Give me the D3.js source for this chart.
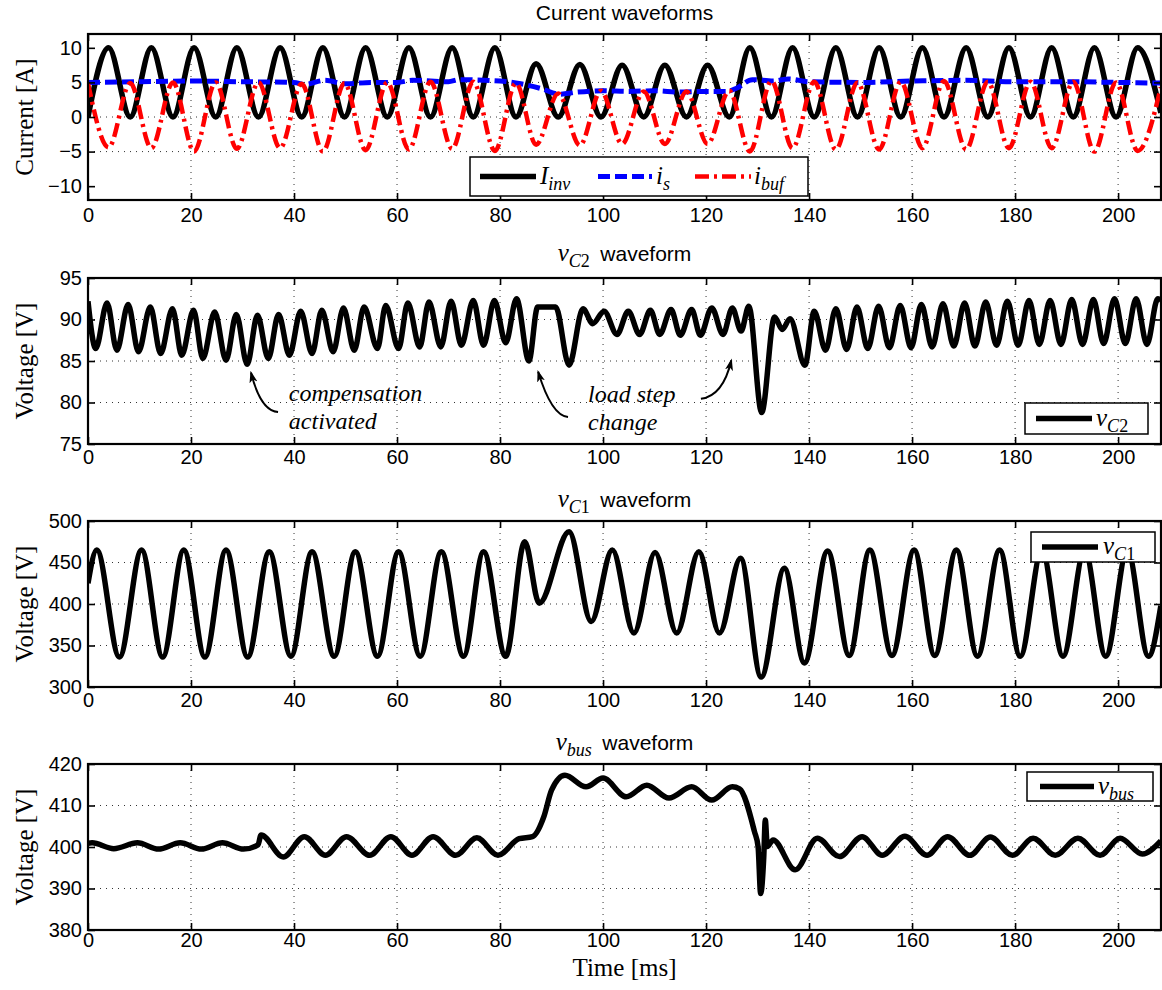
<!DOCTYPE html>
<html>
<head>
<meta charset="utf-8">
<script src="https://cdnjs.cloudflare.com/ajax/libs/d3/7.8.5/d3.min.js"></script>
<style>
  body { margin: 0; background: #fff; }
</style>
</head>
<body>
<script>
// time axis
var xMax = 208.33;
var xTicks = [0, 20, 40, 60, 80, 100, 120, 140, 160, 180, 200];

// y ticks per panel
var ticksCurrent = [-10, -5, 0, 5, 10];
var ticksC2 = [75, 80, 85, 90, 95];
var ticksC1 = [300, 350, 400, 450, 500];
var ticksBus = [380, 390, 400, 410, 420];

// [time ms, value] at extrema and turning points
var iInv = [[0,0],[4.0,10],[8.2,0],[12.3,10],[16.5,0],[20.6,10],[24.8,0],[28.9,10],[33.1,0],[37.3,10],
  [41.5,0],[45.6,10],[49.8,0],[53.9,10],[58.1,0],[62.3,10],[66.5,0],[70.7,10],[74.8,0],[79.0,10],
  [83.1,0],[87.0,7.7],[91.3,0],[95.5,7.6],[99.6,0],[103.7,7.5],[107.9,0],[112.0,7.5],[116.2,0],[120.3,7.5],
  [124.5,0],[128.5,10],[132.7,0],[136.8,10],[141.0,0],[145.2,10],[149.4,0],[153.6,10],[157.8,0],[162.0,10],
  [166.2,0],[170.5,10],[174.7,0],[178.8,10],[183.0,0],[187.1,10],[191.3,0],[195.4,10],[199.6,0],[203.8,10],[208.3,0.6]];

var iS = [[0,5.0],[10,5.1],[20,5.2],[30,5.1],[40,5.0],[42,4.7],[46,5.3],[50,4.8],[55,5.0],[60,5.0],[63,5.3],
  [70,5.1],[72,5.4],[80,5.2],[84,4.8],[88,4.1],[91.5,3.3],[95,3.6],[100,3.8],[105,3.7],[110,3.8],[115,3.6],
  [120,3.7],[124,3.7],[126,4.2],[129,5.4],[133,5.2],[136,5.5],[140,5.1],[150,5.0],[160,5.2],[170,5.3],
  [180,5.1],[190,5.1],[200,5.0],[208.3,4.9]];

var iBuf = [[0,4.9],[4.0,-4.4],[8.2,4.9],[12.3,-4.5],[16.5,5.0],[20.6,-5.0],[24.8,5.0],[28.9,-4.6],[33.1,5.0],
  [37.3,-4.5],[41.5,4.8],[45.6,-5.0],[49.8,4.9],[53.9,-4.8],[58.1,5.0],[62.3,-4.7],[66.5,5.1],[70.7,-4.6],
  [74.8,5.1],[79.0,-4.9],[83.1,4.9],[87.0,-4.0],[91.3,3.4],[95.5,-4.1],[99.6,3.8],[103.7,-3.9],[107.9,3.7],
  [112.0,-3.9],[116.2,3.7],[120.3,-3.9],[124.5,3.8],[128.5,-5.0],[132.7,5.2],[136.8,-4.5],[141.0,5.1],
  [145.2,-4.7],[149.4,5.0],[153.6,-4.7],[157.8,5.1],[162.0,-4.5],[166.2,5.2],[170.5,-4.7],[174.7,5.1],
  [178.8,-4.5],[183.0,5.1],[187.1,-4.5],[191.3,5.1],[195.4,-5.0],[199.6,5.0],[203.8,-4.9],[208.3,4.3]];

var vC2 = [[0,92.2],[1.5,86.5],[3.7,92.0],[5.6,86.3],[7.8,91.8],[9.8,86.1],[12.1,91.5],[14.1,85.9],[16.4,91.3],
  [18.2,85.7],[20.5,91.1],[22.3,85.3],[24.6,90.9],[26.8,85.1],[28.8,90.6],[30.9,84.6],[32.9,90.5],[35.0,85.3],
  [37.0,90.6],[39.1,85.7],[41.3,91.0],[43.5,85.9],[45.4,91.1],[47.6,86.1],[49.6,91.4],[51.7,86.3],[53.6,91.5],
  [56.2,86.5],[57.8,91.7],[60.3,86.5],[62.1,92.0],[64.4,86.7],[66.2,92.1],[68.5,86.7],[70.5,92.2],[72.5,86.9],
  [74.8,92.3],[76.8,86.9],[78.9,92.3],[81.1,87.2],[83.2,92.5],[85.6,85.0],[87.3,91.5],[90.8,91.5],[93.4,84.5],
  [96.1,91.3],[98.0,89.5],[100.2,91.0],[102.7,88.2],[104.9,91.0],[107.1,88.2],[109.2,91.1],[111.0,88.2],
  [113.2,91.2],[115.0,88.1],[117.2,91.2],[118.9,88.1],[121.1,91.4],[123.3,88.2],[125.1,91.4],[126.8,88.6],
  [128.3,91.6],[130.8,78.8],[133.3,90.3],[134.8,88.8],[136.3,90.1],[139.2,84.5],[141.0,91.0],[143.2,86.3],
  [145.2,91.3],[147.3,86.4],[149.3,91.5],[151.4,86.5],[153.5,91.6],[155.6,86.6],[157.7,91.7],[159.8,86.6],
  [161.8,91.8],[163.9,86.7],[166.0,91.9],[168.1,86.8],[170.2,92.0],[172.2,86.8],[174.3,92.1],[176.4,86.9],
  [178.5,92.2],[180.6,86.9],[182.7,92.3],[184.7,87.0],[186.8,92.3],[188.9,87.0],[191.0,92.4],[193.1,87.0],
  [195.2,92.4],[197.2,87.1],[199.3,92.5],[201.4,87.1],[203.5,92.5],[205.6,87.0],[207.7,92.5],[208.3,92.3]];

var vC1 = [[0,425],[1.7,465],[6.1,336],[10.4,465],[14.5,336],[18.6,465],[22.7,336],[26.8,465],[31.0,336],
  [35.2,463],[39.4,337],[43.5,463],[47.8,337],[51.9,463],[56.2,337],[60.3,463],[64.5,337],[68.6,463],
  [72.9,337],[76.8,463],[81.1,337],[84.8,475],[87.6,401],[93.4,487],[97.7,379],[101.8,465],[106.0,365],
  [110.1,462],[114.3,365],[118.6,463],[122.6,365],[126.7,455],[130.7,312],[135.2,443],[139.1,329],
  [143.6,464],[147.8,338],[151.8,465],[156.1,338],[160.4,465],[164.4,338],[168.6,465],[172.7,337],
  [177.0,465],[181.0,337],[185.2,465],[189.3,337],[193.5,465],[197.6,337],[201.8,465],[205.9,337],[208.3,398]];

var vBus = [[0,400.9],[0.8,401.0],[5.0,399.6],[9.6,401.0],[13.7,399.5],[17.9,401.0],[22.0,399.5],[26.1,401.0],
  [30.2,399.5],[33.0,400.5],[33.6,402.9],[37.9,397.6],[42.0,402.5],[46.1,398.0],[50.2,402.5],[54.7,398.0],
  [58.8,402.5],[62.9,398.0],[67.0,402.5],[71.4,398.0],[75.5,402.2],[79.6,398.0],[83.7,402.0],[86.3,402.5],
  [88.5,407.3],[90.0,413.7],[92.6,417.3],[96.7,414.5],[100.0,416.6],[104.5,412.1],[108.5,414.9],[112.8,411.8],
  [117.2,414.5],[121.1,411.3],[125.1,414.5],[126.5,414.0],[129.4,403.7],[130.1,400.1],[130.6,388.8],
  [131.2,397.5],[131.5,406.5],[131.9,400.1],[133.0,401.7],[137.3,394.5],[141.6,402.1],[145.9,397.7],
  [150.3,402.5],[154.2,398.0],[158.6,402.6],[162.9,398.0],[166.9,402.5],[171.2,398.0],[175.2,402.4],
  [179.5,398.0],[183.5,402.1],[187.8,398.0],[192.2,402.1],[196.5,398.0],[200.4,402.1],[204.7,398.3],[208.3,401.5]];

// annotation anchors in data units of the v_C2 panel
var notes = [
  {lines: ['compensation', 'activated'], at: [39.0, 80.2],
   arrow: [[36.9, 78.85], [33.5, 79.0], [31.65, 83.6]]},
  {lines: ['load step', 'change'], at: [97.1, 80.1],
   arrow: [[93.2, 78.25], [90.0, 78.4], [87.4, 83.7]]},
  {lines: [], at: null,
   arrow: [[119.0, 80.44], [123.3, 80.8], [124.9, 85.06]]}
];

var sans = '"Liberation Sans", Arial, Helvetica, sans-serif';
var serif = '"Liberation Serif", "Times New Roman", serif';

var W = 1162, H = 990;
var plotLeft = 88, plotRight = 1161, plotH = 166;

var svg = d3.select('body').append('svg')
  .attr('width', W)
  .attr('height', H);

var x = d3.scaleLinear().domain([0, xMax]).range([plotLeft, plotRight]);

var styles = {
  black: {color: '#000', width: 5.5, dash: null},
  blue: {color: '#0000ff', width: 5, dash: '12,5'},
  red: {color: '#ff0000', width: 4.5, dash: '14,5,3,5'}
};

var panels = [
  {top: 34, domain: [-12, 12], ticks: ticksCurrent, ylabel: 'Current [A]', labPad: 8,
   title: {plain: 'Current waveforms'},
   series: [{data: iInv, st: 'black'}, {data: iS, st: 'blue'}, {data: iBuf, st: 'red'}],
   legend: {x: 470, dy: 123, w: 338, h: 39, items: [
     {st: 'black', x1: 480, x2: 536, tx: 540, base: 'I', sub: [{t: 'inv', it: true}]},
     {st: 'blue', x1: 598, x2: 652, tx: 656, base: 'i', sub: [{t: 's', it: true}]},
     {st: 'red', x1: 695, x2: 751, tx: 754, base: 'i', sub: [{t: 'buf', it: true}]}]}},
  {top: 278, domain: [75, 95], ticks: ticksC2, ylabel: 'Voltage [V]', labPad: 6,
   title: {base: 'v', sub: [{t: 'C', it: true}, {t: '2', it: false}]},
   series: [{data: vC2, st: 'black'}],
   legend: {x: 1025, dy: 125, w: 123, h: 31, items: [
     {st: 'black', x1: 1036, x2: 1092, tx: 1096, base: 'v', sub: [{t: 'C', it: true}, {t: '2', it: false}]}]}},
  {top: 521, domain: [300, 500], ticks: ticksC1, ylabel: 'Voltage [V]', labPad: 6,
   title: {base: 'v', sub: [{t: 'C', it: true}, {t: '1', it: false}]},
   series: [{data: vC1, st: 'black'}],
   legend: {x: 1031, dy: 11, w: 124, h: 30, items: [
     {st: 'black', x1: 1042, x2: 1098, tx: 1103, base: 'v', sub: [{t: 'C', it: true}, {t: '1', it: false}]}]}},
  {top: 764, domain: [380, 420], ticks: ticksBus, ylabel: 'Voltage [V]', labPad: 3,
   title: {base: 'v', sub: [{t: 'bus', it: true}]},
   series: [{data: vBus, st: 'black'}],
   legend: {x: 1027, dy: 8, w: 126, h: 29, items: [
     {st: 'black', x1: 1040, x2: 1094, tx: 1098, base: 'v', sub: [{t: 'bus', it: true}]}]}}
];

function mathTspans(text, base, sub, size) {
  text.append('tspan')
    .attr('font-family', serif).attr('font-style', 'italic').attr('font-size', size)
    .text(base);
  sub.forEach(function(s, k) {
    text.append('tspan')
      .attr('font-family', serif)
      .attr('font-style', s.it ? 'italic' : 'normal')
      .attr('font-size', Math.round(size * 0.7))
      .attr('dy', k === 0 ? size * 0.25 : 0)
      .text(s.t);
  });
}

function applyStyle(sel, st) {
  var s = styles[st];
  sel.attr('stroke', s.color).attr('stroke-width', s.width).attr('fill', 'none');
  if (s.dash) sel.attr('stroke-dasharray', s.dash);
}

panels.forEach(function(p, i) {
  var bottom = p.top + plotH;
  var y = d3.scaleLinear().domain(p.domain).range([bottom, p.top]);
  var g = svg.append('g');

  // dotted grid
  g.selectAll('.gx').data(xTicks.slice(1)).enter().append('line')
    .attr('x1', function(d) { return x(d); })
    .attr('x2', function(d) { return x(d); })
    .attr('y1', p.top).attr('y2', bottom)
    .attr('stroke', '#333').attr('stroke-width', 1).attr('stroke-dasharray', '1,5');
  g.selectAll('.gy').data(p.ticks.slice(1, -1)).enter().append('line')
    .attr('x1', plotLeft).attr('x2', plotRight)
    .attr('y1', function(d) { return y(d); })
    .attr('y2', function(d) { return y(d); })
    .attr('stroke', '#333').attr('stroke-width', 1).attr('stroke-dasharray', '1,5');

  svg.append('clipPath').attr('id', 'clip' + i)
    .append('rect')
    .attr('x', plotLeft).attr('y', p.top)
    .attr('width', plotRight - plotLeft).attr('height', plotH);

  var line = d3.line()
    .x(function(d) { return x(d[0]); })
    .y(function(d) { return y(d[1]); })
    .curve(d3.curveMonotoneX);

  p.series.forEach(function(s) {
    g.append('path')
      .datum(s.data)
      .attr('d', line)
      .attr('clip-path', 'url(#clip' + i + ')')
      .attr('stroke-linejoin', 'round')
      .call(applyStyle, s.st);
  });

  // axes with inward ticks
  var axB = g.append('g').attr('transform', 'translate(0,' + bottom + ')')
    .call(d3.axisBottom(x).tickValues(xTicks).tickSizeInner(-7).tickSizeOuter(0).tickPadding(p.labPad));
  var axT = g.append('g').attr('transform', 'translate(0,' + p.top + ')')
    .call(d3.axisTop(x).tickValues(xTicks).tickSizeInner(-7).tickSizeOuter(0).tickFormat(''));
  var axL = g.append('g').attr('transform', 'translate(' + plotLeft + ',0)')
    .call(d3.axisLeft(y).tickValues(p.ticks).tickSizeInner(-7).tickSizeOuter(0).tickPadding(6));
  var axR = g.append('g').attr('transform', 'translate(' + plotRight + ',0)')
    .call(d3.axisRight(y).tickValues(p.ticks).tickSizeInner(-7).tickSizeOuter(0).tickFormat(''));
  [axB, axT, axL, axR].forEach(function(a) {
    a.select('.domain').remove();
    a.selectAll('.tick line').attr('stroke', '#000').attr('stroke-width', 1.6);
    a.selectAll('.tick text').attr('font-family', sans).attr('font-size', 20).attr('fill', '#000');
  });

  // box
  g.append('rect')
    .attr('x', plotLeft).attr('y', p.top)
    .attr('width', plotRight - plotLeft).attr('height', plotH)
    .attr('fill', 'none').attr('stroke', '#000').attr('stroke-width', 2.2);

  // y label
  g.append('text')
    .attr('transform', 'translate(24,' + (p.top + plotH / 2) + ') rotate(-90)')
    .attr('text-anchor', 'middle')
    .attr('dy', '0.35em')
    .attr('font-family', serif).attr('font-size', 25)
    .text(p.ylabel);

  // title
  var cx = (plotLeft + plotRight) / 2;
  var tt = g.append('text')
    .attr('x', cx).attr('y', i === 1 ? p.top - 17 : p.top - 14)
    .attr('text-anchor', 'middle');
  if (p.title.plain) {
    tt.attr('font-family', sans).attr('font-size', 21).text(p.title.plain);
  } else {
    mathTspans(tt, p.title.base, p.title.sub, 25);
    tt.append('tspan')
      .attr('font-family', sans).attr('font-size', 21)
      .attr('dy', -25 * 0.25)
      .text('\u2002waveform');
  }

  // legend
  var L = p.legend;
  var ly = p.top + L.dy;
  var lg = g.append('g');
  lg.append('rect')
    .attr('x', L.x).attr('y', ly).attr('width', L.w).attr('height', L.h)
    .attr('fill', '#fff').attr('stroke', '#000').attr('stroke-width', 1.5);
  L.items.forEach(function(it) {
    lg.append('line')
      .attr('x1', it.x1).attr('x2', it.x2)
      .attr('y1', ly + L.h / 2).attr('y2', ly + L.h / 2)
      .call(applyStyle, it.st);
    var t = lg.append('text').attr('x', it.tx).attr('y', ly + L.h / 2 + 7);
    mathTspans(t, it.base, it.sub, 25);
  });

  // annotations on the v_C2 panel
  if (i === 1) {
    notes.forEach(function(n) {
      n.lines.forEach(function(txt, k) {
        g.append('text')
          .attr('x', x(n.at[0]))
          .attr('y', y(n.at[1]) + k * 28)
          .attr('font-family', serif).attr('font-style', 'italic').attr('font-size', 24)
          .text(txt);
      });
      var a = n.arrow;
      var path = d3.path();
      path.moveTo(x(a[0][0]), y(a[0][1]));
      path.quadraticCurveTo(x(a[1][0]), y(a[1][1]), x(a[2][0]), y(a[2][1]));
      g.append('path')
        .attr('d', path.toString())
        .attr('fill', 'none').attr('stroke', '#000').attr('stroke-width', 2)
        .attr('marker-end', 'url(#arrowHead)');
    });
  }
});

svg.append('defs').append('marker')
  .attr('id', 'arrowHead')
  .attr('viewBox', '0 0 12 8')
  .attr('refX', 10).attr('refY', 4)
  .attr('markerWidth', 6).attr('markerHeight', 4)
  .attr('orient', 'auto')
  .append('path')
  .attr('d', 'M0,0 L12,4 L0,8 L3,4 Z')
  .attr('fill', '#000');

// x label
svg.append('text')
  .attr('x', (plotLeft + plotRight) / 2).attr('y', 976)
  .attr('text-anchor', 'middle')
  .attr('font-family', serif).attr('font-size', 25)
  .text('Time [ms]');
</script>
</body>
</html>
